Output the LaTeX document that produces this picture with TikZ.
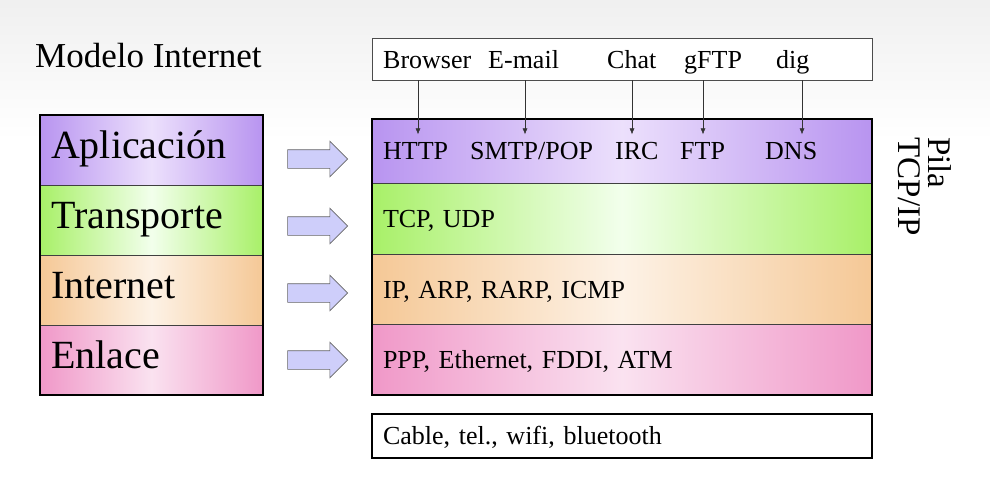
\documentclass[tikz,border=0pt]{standalone}
\usepackage{fontspec}
\setmainfont{Liberation Serif}
\usetikzlibrary{positioning,shapes.arrows,arrows.meta}
\definecolor{aplE}{RGB}{184,148,240}
\definecolor{aplC}{RGB}{236,224,252}
\definecolor{traE}{RGB}{168,240,104}
\definecolor{traC}{RGB}{242,255,236}
\definecolor{intE}{RGB}{245,200,150}
\definecolor{intC}{RGB}{253,242,230}
\definecolor{enlE}{RGB}{240,152,200}
\definecolor{enlC}{RGB}{250,226,240}
\definecolor{flecha}{RGB}{206,206,250}
\tikzset{
    capa/.style={draw=black!75, line width=0.8pt, outer sep=0pt, align=left},
    relleno/.style n args={2}{left color=#1, right color=#1, middle color=#2},
    modelo/.style={capa, minimum width=223pt, minimum height=70pt, text width=201pt, inner xsep=11pt,
      font=\fontsize{40}{44}\selectfont, text height=25pt, text depth=8pt},
    pila/.style={capa, minimum width=500pt, text width=478pt, inner xsep=11pt,
      font=\fontsize{26}{30}\selectfont, text height=18pt, text depth=0pt},
    palabra/.style={anchor=base west, inner sep=0pt, font=\fontsize{26}{30}\selectfont},
    bloque/.style={single arrow, draw=black!60, fill=flecha, line width=0.6pt, minimum height=60pt,
      inner xsep=0pt, inner ysep=9pt, text height=0pt, text depth=0pt, single arrow head extend=8.5pt},
    flechita/.style={-{Latex[length=6pt,width=5pt]}, draw=black!80, line width=0.5pt},
  }
\begin{document}
\begin{tikzpicture}[x=1pt,y=-1pt]
          %fondo
          \useasboundingbox (0,0) rectangle (990,500);
          \fill[white] (0,0) rectangle (990,500);
          \fill[top color=black!6, bottom color=white] (0,0) rectangle (990,140);

          \node[anchor=base west, inner sep=0pt, font=\fontsize{35}{40}\selectfont] (titulo) at (35,68) {Modelo Internet};

          %modelo
          \node[modelo, relleno={aplE}{aplC}] (apl) at (151.5,150) {Aplicación};
          \node[modelo, relleno={traE}{traC}, below=0pt of apl] (tra) {Transporte};
          \node[modelo, relleno={intE}{intC}, below=0pt of tra] (inet) {Internet};
          \node[modelo, relleno={enlE}{enlC}, below=0pt of inet] (enl) {Enlace};
          \draw[line width=2.5pt] (apl.north west) rectangle (enl.south east);

          %flechas gruesas
          \node[bloque] (f1) at (313,159) {};
          \node[bloque] (f2) at (313,226) {};
          \node[bloque] (f3) at (313,293) {};
          \node[bloque] (f4) at (313,360) {};

          %aplicaciones
          \node[draw=black!70, line width=0.7pt, fill=white, minimum width=500pt, minimum height=42pt] (apps) at (622,59) {};
          \node[palabra] (browser) at (383,69) {Browser};
          \node[palabra] (email) at (488,69) {E-mail};
          \node[palabra] (chat) at (607,69) {Chat};
          \node[palabra] (gftp) at (684,69) {gFTP};
          \node[palabra] (dig) at (776,69) {dig};

          %pila
          \node[pila, minimum height=64pt, relleno={aplE}{aplC}] (capaApl) at (622,151) {};
          \node[pila, minimum height=71pt, relleno={traE}{traC}, below=0pt of capaApl] (capaTra) {TCP, UDP};
          \node[pila, minimum height=70pt, relleno={intE}{intC}, below=0pt of capaTra] (capaInt) {IP, ARP, RARP, ICMP};
          \node[pila, minimum height=71pt, relleno={enlE}{enlC}, below=0pt of capaInt] (capaEnl) {PPP, Ethernet, FDDI, ATM};
          \draw[line width=2.5pt] (capaApl.north west) rectangle (capaEnl.south east);

          \node[palabra] (http) at (383,160) {HTTP};
          \node[palabra] (smtp) at (470,160) {SMTP/POP};
          \node[palabra] (irc) at (615,160) {IRC};
          \node[palabra] (ftp) at (680,160) {FTP};
          \node[palabra] (dns) at (765,160) {DNS};

          \foreach \x in {418,525,632,703,802}
            \draw[flechita] (apps.south -| \x,0) -- ++(0,54);

          \node[rotate=-90, anchor=north west, align=left, inner sep=0pt, font=\fontsize{33}{30}\selectfont] (pilaTxt) at (952,137) {Pila\\TCP/IP};

          %medio fisico
          \node[pila, draw=black, line width=2.5pt, fill=white, minimum height=44pt, text height=16pt] (medio) at (622,436) {Cable, tel., wifi, bluetooth};
\end{tikzpicture}
\end{document}
